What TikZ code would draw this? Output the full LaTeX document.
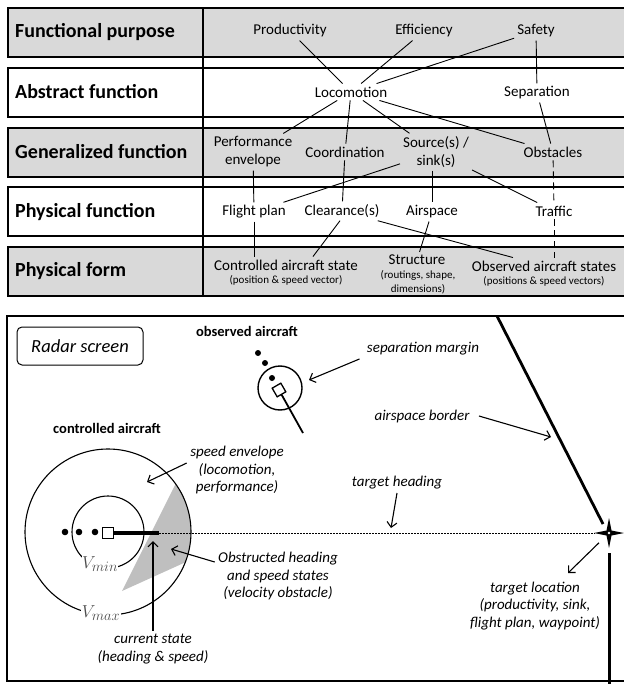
\documentclass[tikz,border=0pt]{standalone}
\usepackage{fontspec}
\setmainfont{Carlito}
\usetikzlibrary{arrows.meta}
\definecolor{rowgray}{gray}{0.85}
\definecolor{wedgegray}{gray}{0.75}
\tikzset{
  rowbox/.style={draw,line width=1.1pt},
  rowlabel/.style={anchor=west,inner sep=0pt,font=\fontsize{20}{22}\selectfont\bfseries},
  fn/.style={font=\fontsize{15}{18}\selectfont,inner sep=3pt,align=center},
  sub/.style={font=\fontsize{11}{14}\selectfont,inner sep=0pt,align=center},
  note/.style={font=\fontsize{15}{17.5}\selectfont\itshape,align=center},
  tag/.style={font=\fontsize{14.5}{17}\selectfont\bfseries},
  link/.style={line width=0.9pt},
  arr/.style={-{Straight Barb[length=5pt,width=10pt]},line width=1.1pt},
  vlabel/.style={fill=white,inner sep=0.5pt,text=black!70,font=\fontsize{19}{21}\selectfont},
}
\begin{document}
\begin{tikzpicture}[x=1pt,y=-1pt]
  \useasboundingbox (0,0) rectangle (623,684);

  % abstraction hierarchy
  \foreach \ytop/\shade in {8/rowgray,68/white,128/rowgray,187/white,247/rowgray}
    \draw[rowbox,fill=\shade] (8,\ytop) rectangle (650,\ytop+49);
  \draw[line width=1.1pt] (203,8) -- (203,296);

  \node[rowlabel] at (15,32) {Functional purpose};
  \node[rowlabel] at (15,92) {Abstract function};
  \node[rowlabel] at (15,152) {Generalized function};
  \node[rowlabel] at (15,212) {Physical function};
  \node[rowlabel] at (15,271) {Physical form};

  \node[fn] (prod) at (290,31) {Productivity};
  \node[fn] (eff) at (424,31) {Efficiency};
  \node[fn] (safe) at (536,31) {Safety};
  \node[fn] (loco) at (351,92) {Locomotion};
  \node[fn] (sepa) at (537,93) {Separation};
  \node[fn] (perf) at (253,152) {Performance\\envelope};
  \node[fn] (coord) at (345,152) {Coordination};
  \node[fn] (src) at (436,152) {Source(s) /\\sink(s)};
  \node[fn] (obst) at (553,152) {Obstacles};
  \node[fn] (fplan) at (254,212) {Flight plan};
  \node[fn] (clear) at (342,211) {Clearance(s)};
  \node[fn] (aspace) at (432,212) {Airspace};
  \node[fn] (traffic) at (554,211) {Traffic};
  \node[fn] (ctrl) at (286,265) {Controlled aircraft state};
  \node[sub] (ctrlsub) at (286,280) {(position \& speed vector)};
  \node[fn] (struct) at (417,260) {Structure};
  \node[sub] (structsub) at (418,282) {(routings, shape,\\dimensions)};
  \node[fn] (obsv) at (544,266) {Observed aircraft states};
  \node[sub] (obsvsub) at (544,281) {(positions \& speed vectors)};

  \draw[link] (prod) -- (loco);
  \draw[link] (eff) -- (loco);
  \draw[link] (safe) -- (loco);
  \draw[link] (safe) -- (sepa);
  \draw[link] (loco) -- (perf);
  \draw[link] (loco) -- (coord);
  \draw[link] (loco) -- (src);
  \draw[link] (loco) -- (obst);
  \draw[link] (sepa) -- (obst);
  \draw[link] (perf) -- (fplan);
  \draw[link] (coord) -- (clear);
  \draw[link] (src) -- (fplan);
  \draw[link] (aspace.north |- src.south) -- (aspace.north);
  \draw[link] (src) -- (traffic);
  \draw[link,dash pattern=on 7pt off 4pt] (obst) -- (traffic);
  \draw[link,dash pattern=on 7pt off 4pt] (traffic.south) -- (traffic.south |- obsv.north);
  \draw[link] (fplan.south) -- (fplan.south |- ctrl.north);
  \draw[link] ([xshift=-2pt]clear.south) -- ([xshift=27pt]ctrl.north);
  \draw[link] (clear) -- (obsv);
  \draw[link] (aspace) -- (struct);

  % radar screen
  \draw[line width=1.2pt] (7,316) rectangle (650,681);
  \node[draw,rounded corners=5pt,line width=1pt,minimum width=126,minimum height=38,
    font=\fontsize{18.5}{20}\selectfont\itshape] (radar) at (80,346) {Radar screen};

  \coordinate (ctrlpos) at (108,532);
  \coordinate (target) at (609,533);
  \coordinate (vnow) at (159,533);

  \begin{scope}
    \clip (ctrlpos) circle[radius=83];
    \fill[wedgegray] (122,591) -- (226,383) -- (250,533) -- cycle;
  \end{scope}
  \draw[line width=1.1pt] (ctrlpos) circle[radius=83];
  \draw[line width=1.1pt] (ctrlpos) circle[radius=36];
  \node[vlabel] (vmin) at (100,564) {$V_{min}$};
  \node[vlabel] (vmax) at (101,613) {$V_{max}$};
  \foreach \xdot in {65,79,95}
    \fill (\xdot,532) circle[radius=3.3];
  \node[draw,fill=white,line width=1.2pt,minimum size=11,inner sep=0pt] (ctrlac) at (108,533) {};
  \draw[line width=0.9pt,dash pattern=on 1.5pt off 1.5pt] (vnow) -- ([xshift=-14pt]target);
  \draw[line width=4pt] (ctrlac.east) -- (vnow);
  \node[tag] (ctrltag) at (107,428) {controlled aircraft};

  % observed aircraft
  \node[tag] (obstag) at (247,331) {observed aircraft};
  \foreach \xdot/\ydot in {258/353,265/363,272/378}
    \fill (\xdot,\ydot) circle[radius=3];
  \node[draw,circle,line width=1.4pt,minimum size=44] (obsring) at (280,388) {};
  \node[draw,fill=white,line width=1.3pt,minimum size=10,inner sep=0pt,rotate=30] (obsac) at (279,390) {};
  \coordinate (obshead) at (303,433);
  \draw[line width=1.8pt] (obsac) -- (obshead);

  % airspace and target
  \draw[line width=2.8pt] (497,316) -- (603,524);
  \draw[line width=3pt] (609,553) -- (609,690);
  \fill (target) ++(0,-15) -- ++(2.5,12.5) -- ++(12.5,2.5) -- ++(-12.5,2.5) -- ++(-2.5,12.5)
    -- ++(-2.5,-12.5) -- ++(-12.5,-2.5) -- ++(12.5,-2.5) -- cycle;
  \fill[white] (target) circle[radius=1.3];

  % annotations
  \node[note] (sepm) at (423,349) {separation margin};
  \node[note] (bord) at (422,416) {airspace border};
  \node[note] (thead) at (397,483) {target heading};
  \node[note] (envel) at (237,470) {speed envelope\\(locomotion,\\performance)};
  \node[note] (obstr) at (278,576) {Obstructed heading\\and speed states\\(velocity obstacle)};
  \node[note] (curst) at (153,649) {current state\\(heading \& speed)};
  \node[note] (tloc) at (535,606) {target location\\(productivity, sink,\\flight plan, waypoint)};

  \coordinate (septip) at (309,380);
  \coordinate (bordtip) at (551,437);
  \coordinate (theadtip) at (391,528);
  \coordinate (enveltip) at (147,482);
  \coordinate (obstrtip) at (171,549);
  \coordinate (curtip) at (153,541);
  \coordinate (tloctip) at (568,573);

  \draw[arr] ([xshift=-4pt]sepm.south west) -- (septip);
  \draw[arr] ([xshift=6pt]bord.east) -- (bordtip);
  \draw[arr] (thead.south) -- (theadtip);
  \draw[arr] ([yshift=7pt]envel.west) -- (enveltip);
  \draw[arr] ([yshift=14pt]obstr.west) -- (obstrtip);
  \draw[arr] (curst.north) -- (curtip);
  \draw[arr,shorten <=14pt] (target) -- (tloctip);
\end{tikzpicture}
\end{document}
